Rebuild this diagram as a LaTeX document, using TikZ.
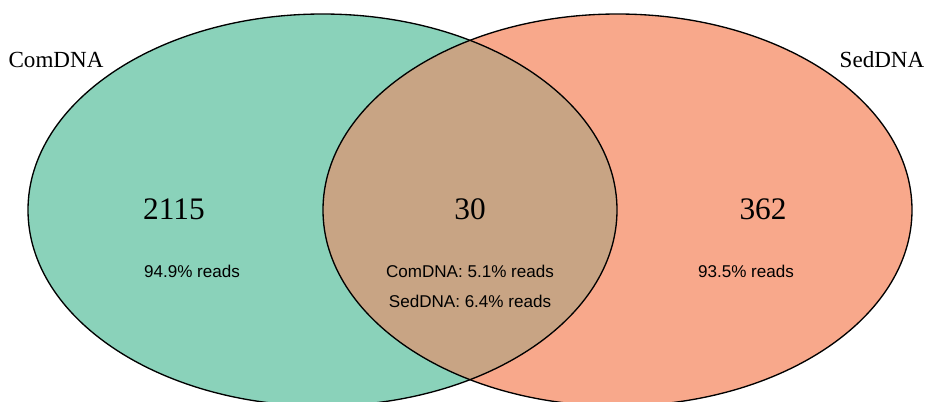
\documentclass[tikz,border=0pt]{standalone}
\usepackage{fontspec}
\setmainfont{Liberation Serif}
\setsansfont{Liberation Sans}
\definecolor{comfill}{RGB}{138,210,186}
\definecolor{sedfill}{RGB}{248,168,139}
\definecolor{bothfill}{RGB}{200,164,132}
\begin{document}
\begin{tikzpicture}[x=0.75pt,y=-0.75pt,
		count/.style={font=\fontsize{23.5}{28}\selectfont},
		setname/.style={font=\fontsize{17.3}{20}\selectfont},
		share/.style={font=\sffamily\fontsize{12.8}{15}\selectfont}]
		\useasboundingbox (0,0) rectangle (926,401);
		\begin{scope}
		\clip (0,0) rectangle (926,401);
		\fill[comfill] (322.5,210) ellipse (294.5 and 196);
		\fill[sedfill] (617.5,210) ellipse (294.5 and 196);
		\begin{scope}
		\clip (322.5,210) ellipse (294.5 and 196);
		\fill[bothfill] (617.5,210) ellipse (294.5 and 196);
		\end{scope}
		\draw[line width=1pt] (322.5,210) ellipse (294.5 and 196);
		\draw[line width=1pt] (617.5,210) ellipse (294.5 and 196);
		\end{scope}
		\node (com) [setname] at (56,60) {ComDNA};
		\node (sed) [setname] at (882,60) {SedDNA};
		\node (n1) [count] at (174,209) {2115};
		\node (n2) [count] at (470,209) {30};
		\node (n3) [count] at (763,209) {362};
		\node (r1) [share] at (192,271) {94.9\% reads};
		\node (r2) [share] at (470,271) {ComDNA: 5.1\% reads};
		\node (r3) [share] at (470,301) {SedDNA: 6.4\% reads};
		\node (r4) [share] at (746,271) {93.5\% reads};
		\end{tikzpicture}
\end{document}
